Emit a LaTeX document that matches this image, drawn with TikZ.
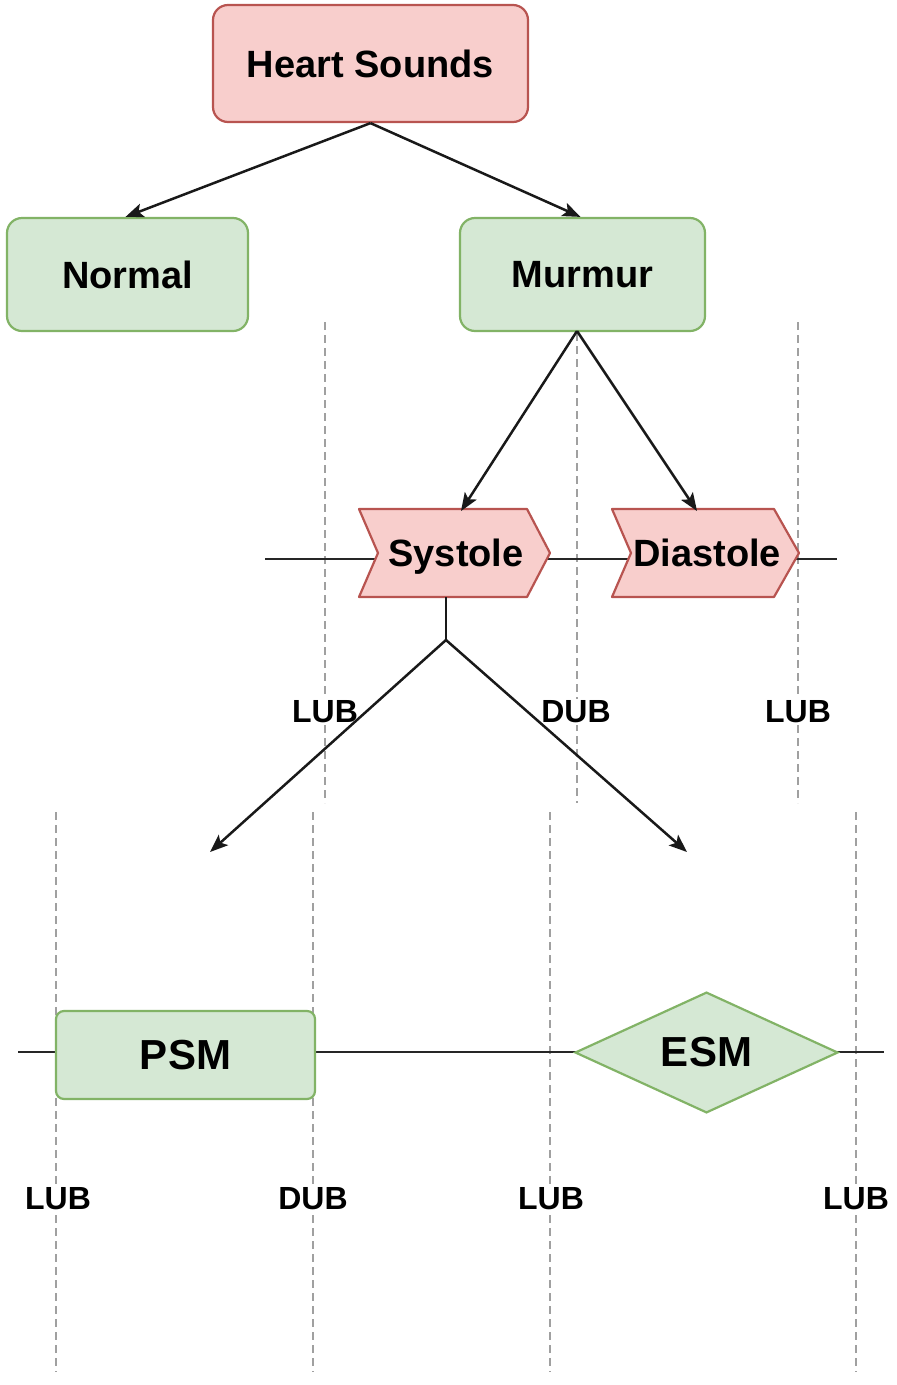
\documentclass[tikz,border=0pt]{standalone}
\usepackage{fontspec}
\setmainfont{Liberation Sans}
\usetikzlibrary{shapes.geometric,arrows.meta}
\definecolor{redfill}{HTML}{F8CECC}
\definecolor{redline}{HTML}{B85450}
\definecolor{greenfill}{HTML}{D5E8D4}
\definecolor{greenline}{HTML}{82B366}
\definecolor{dashgray}{HTML}{A0A0A0}
\begin{document}
\begin{tikzpicture}[x=1pt,y=-1pt,
  redbox/.style={draw=redline,fill=redfill,line width=2.2pt,rounded corners=15pt,inner sep=0pt,
    font=\fontsize{38}{40}\selectfont\bfseries},
  greenbox/.style={draw=greenline,fill=greenfill,line width=2.2pt,rounded corners=15pt,inner sep=0pt,
    font=\fontsize{38}{40}\selectfont\bfseries},
  stepbox/.style={inner sep=0pt,text height=27pt,text depth=7pt,font=\fontsize{38}{40}\selectfont\bfseries},
  stepshape/.style={draw=redline,fill=redfill,line width=2.2pt,line join=round},
  bigbox/.style={draw=greenline,fill=greenfill,line width=2.2pt,rounded corners=8pt,inner sep=0pt,
    font=\fontsize{42}{44}\selectfont\bfseries},
  lbl/.style={fill=white,inner sep=2pt,font=\fontsize{32}{34}\selectfont\bfseries},
  guide/.style={draw=dashgray,line width=1.8pt,dash pattern=on 8pt off 5pt},
  axis/.style={draw=black!85,line width=2.4pt},
  conn/.style={draw=black!90,line width=2.5pt,-{Stealth[length=18pt,width=14pt,inset=4pt]}},
  plain/.style={draw=black!90,line width=2.5pt}
]
\useasboundingbox (0,0) rectangle (897,1385);

% dashed guide lines
\draw[guide] (325,322) -- (325,803);
\draw[guide] (577,333) -- (577,803);
\draw[guide] (798,322) -- (798,803);
\draw[guide] (56,812) -- (56,1372);
\draw[guide] (313,812) -- (313,1372);
\draw[guide] (550,812) -- (550,1372);
\draw[guide] (856,812) -- (856,1372);

% time axes
\coordinate (ta1) at (265,559);
\coordinate (ta2) at (837,559);
\draw[axis] (ta1) -- (ta2);
\coordinate (ba1) at (18,1052);
\coordinate (ba2) at (884,1052);
\draw[axis] (ba1) -- (ba2);

% top boxes
\node[redbox,minimum width=315pt,minimum height=117pt] (hs) at (370.5,63.5) {Heart Sounds};
\node[greenbox,minimum width=241pt,minimum height=113pt] (normal) at (127.5,274.5) {Normal};
\node[greenbox,minimum width=245pt,minimum height=113pt] (murmur) at (582.5,274.5) {Murmur};

% step shapes
\draw[stepshape] (359,509) -- (527,509) -- (550,553) -- (527,597) -- (359,597) -- (378,553) -- cycle;
\node[stepbox,minimum width=191pt,minimum height=88pt] (systole) at (456,556) {Systole};
\draw[stepshape] (612,509) -- (774,509) -- (799,553) -- (774,597) -- (612,597) -- (631,553) -- cycle;
\node[stepbox,minimum width=187pt,minimum height=88pt] (diastole) at (707,556) {Diastole};

% bottom shapes
\node[bigbox,minimum width=259pt,minimum height=88pt] (psm) at (185.5,1055) {PSM};
\node[draw=greenline,fill=greenfill,line width=2.2pt,diamond,inner sep=0pt,minimum width=263pt,
  minimum height=115pt,font=\fontsize{42}{44}\selectfont\bfseries] (esm) at (706.5,1052.5) {ESM};

% labels
\node[lbl] (l1) at (325,712) {LUB};
\node[lbl] (d1) at (576,712) {DUB};
\node[lbl] (l2) at (798,712) {LUB};
\node[lbl] (l3) at (58,1199) {LUB};
\node[lbl] (d2) at (313,1199) {DUB};
\node[lbl] (l4) at (551,1199) {LUB};
\node[lbl] (l5) at (856,1199) {LUB};

% connectors
\draw[conn] (hs.south) -- ([xshift=-2pt]normal.north);
\draw[conn] (hs.south) -- ([xshift=-2pt]murmur.north);
\coordinate (mbot) at (577,331);
\coordinate (stip) at (461,511);
\coordinate (dtip) at (697,511);
\draw[conn] (mbot) -- (stip);
\draw[conn] (mbot) -- (dtip);
\coordinate (stem) at (446,597);
\coordinate (fork) at (446,640);
\coordinate (ptip) at (210,852);
\coordinate (etip) at (687,852);
\draw[plain] (stem) -- (fork);
\draw[conn] (fork) -- (ptip);
\draw[conn] (fork) -- (etip);
\end{tikzpicture}
\end{document}
